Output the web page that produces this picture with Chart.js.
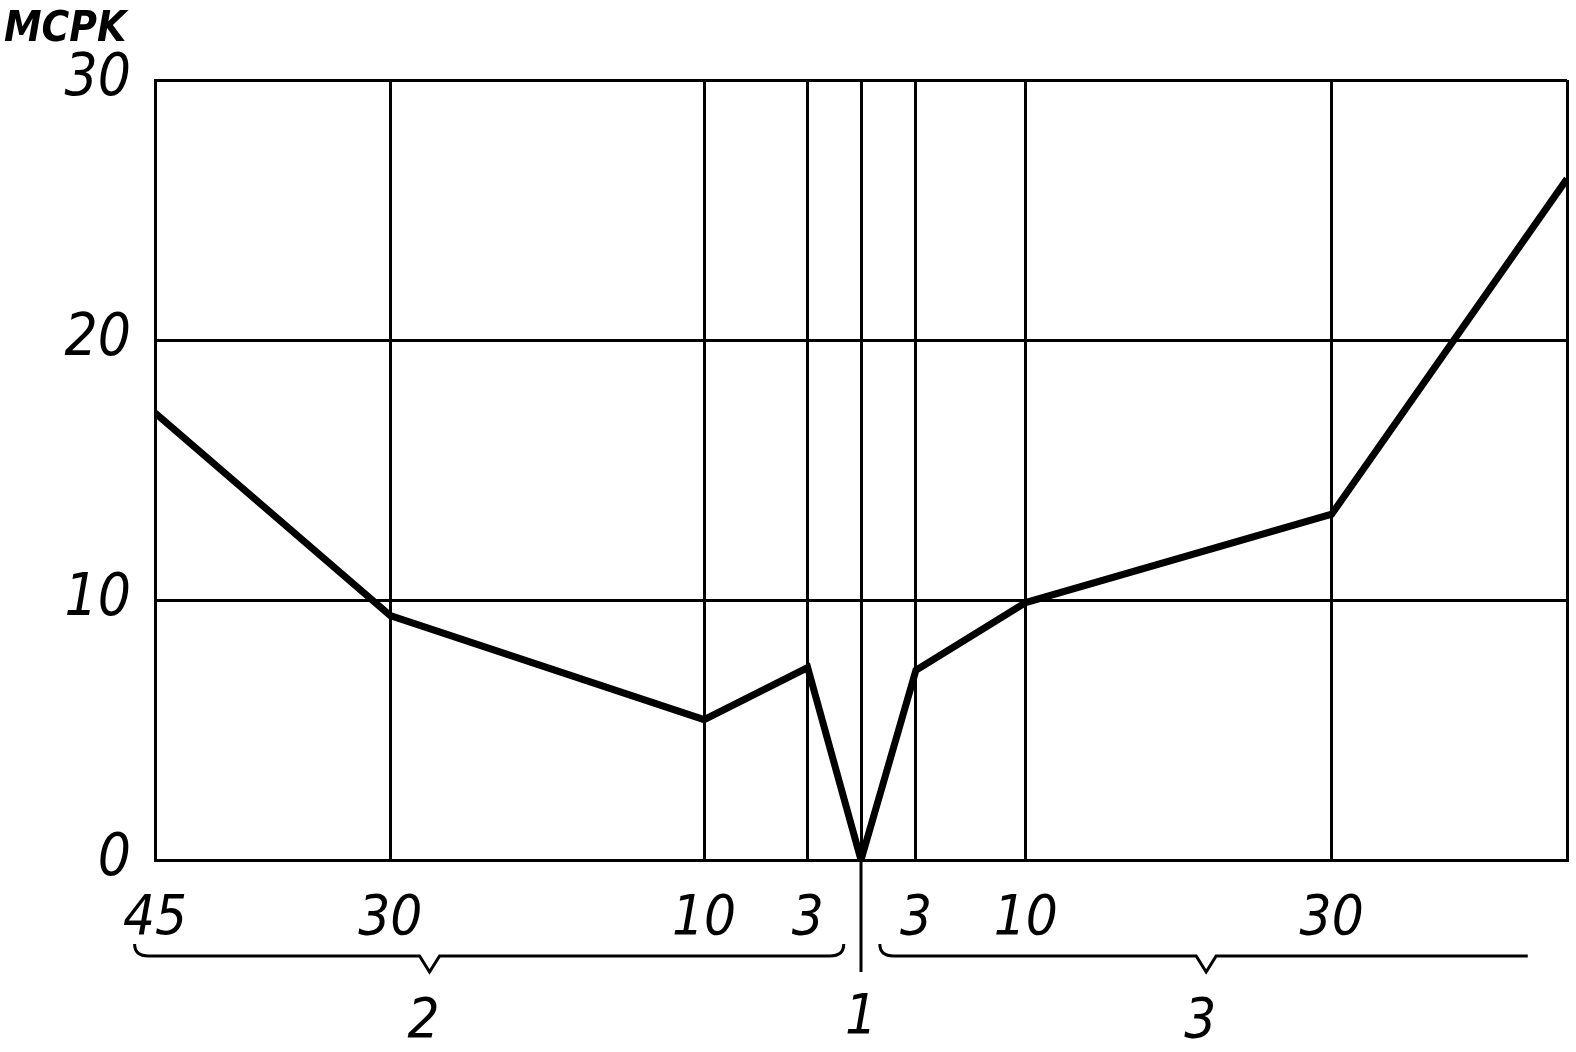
<!DOCTYPE html>
<html lang="ru">
<head>
    <meta charset="UTF-8">
    <title>MCPK</title>
    <script src="https://cdn.jsdelivr.net/npm/chart.js@4.4.0/dist/chart.umd.min.js"></script>
    <style>
        body { margin: 0; background: #fff; }
        canvas { display: block; }
    </style>
</head>
<body>
    <canvas id="chart" width="1576" height="1052"></canvas>
    <script>
        // distance along the profile: negative = group 2 side, positive = group 3 side
        const xPos = [-45, -30, -10, -3.4, 0, 3.5, 10.5, 30, 45];
        const mcpk = [17.2, 9.4, 5.4, 7.4, 0, 7.3, 9.9, 13.3, 26.2];
        const xTickPos = [-45, -30, -10, -3.4, 0, 3.5, 10.5, 30, 45];
        const xTickLabels = ['45', '30', '10', '3', '', '3', '10', '30', ''];
        const yTicks = [0, 10, 20, 30];
        const groups = [
            { label: '2', from: -46.3, to: -1.1, tip: -27.5, curlRight: true },
            { label: '1', at: 0 },
            { label: '3', from: 1.2, to: 42.5, tip: 22, curlRight: false }
        ];
        const yTitle = 'MCPK';

        const FONT = '"Liberation Sans Narrow", "DejaVu Sans Condensed", sans-serif';

        const extras = {
            id: 'extras',
            afterDraw(chart) {
                const ctx = chart.ctx;
                const x = chart.scales.x;
                const bottom = chart.chartArea.bottom;
                ctx.save();
                ctx.strokeStyle = '#000';
                ctx.fillStyle = '#000';
                ctx.lineWidth = 3;

                // centre line keeps going below the axis
                const cx = x.getPixelForValue(0);
                ctx.beginPath();
                ctx.moveTo(cx, bottom);
                ctx.lineTo(cx, bottom + 112);
                ctx.stroke();

                const by = bottom + 96;
                ctx.font = 'italic 56px ' + FONT;
                ctx.textAlign = 'center';
                ctx.textBaseline = 'middle';
                groups.forEach(g => {
                    if (g.at !== undefined) {
                        ctx.fillText(g.label, x.getPixelForValue(g.at), by + 62);
                        return;
                    }
                    const x1 = x.getPixelForValue(g.from);
                    const x2 = x.getPixelForValue(g.to);
                    const xt = x.getPixelForValue(g.tip);
                    ctx.beginPath();
                    ctx.moveTo(x1, by - 12);
                    ctx.quadraticCurveTo(x1, by, x1 + 14, by);
                    ctx.lineTo(xt - 10, by);
                    ctx.lineTo(xt, by + 16);
                    ctx.lineTo(xt + 10, by);
                    if (g.curlRight) {
                        ctx.lineTo(x2 - 14, by);
                        ctx.quadraticCurveTo(x2, by, x2, by - 12);
                    } else {
                        ctx.lineTo(x2, by);
                    }
                    ctx.stroke();
                    ctx.fillText(g.label, xt - 6, by + 66);
                });

                ctx.font = 'italic bold 42px ' + FONT;
                ctx.textAlign = 'left';
                ctx.fillText(yTitle, 4, 30);
                ctx.restore();
            }
        };

        const ctx = document.getElementById('chart').getContext('2d');
        new Chart(ctx, {
            type: 'line',
            data: {
                datasets: [{
                    data: xPos.map((v, i) => ({ x: v, y: mcpk[i] })),
                    borderColor: '#000',
                    borderWidth: 7,
                    pointRadius: 0,
                    tension: 0,
                    fill: false
                }]
            },
            options: {
                responsive: false,
                animation: false,
                layout: { padding: { left: 0, top: 80, right: 9, bottom: 112 } },
                plugins: { legend: { display: false }, tooltip: { enabled: false } },
                scales: {
                    x: {
                        type: 'linear',
                        min: -45,
                        max: 45,
                        afterBuildTicks: s => { s.ticks = xTickPos.map(v => ({ value: v })); },
                        afterFit: s => { s.height = 80; s.paddingLeft = 0; s.paddingRight = 0; },
                        grid: { color: '#000', lineWidth: 3, drawTicks: false },
                        border: { color: '#000', width: 3 },
                        ticks: {
                            color: '#000',
                            padding: 26,
                            maxRotation: 0,
                            autoSkip: false,
                            font: { family: FONT, size: 56, style: 'italic' },
                            callback: (v, i) => xTickLabels[i]
                        }
                    },
                    y: {
                        min: 0,
                        max: 30,
                        afterBuildTicks: s => { s.ticks = yTicks.map(v => ({ value: v })); },
                        afterFit: s => { s.width = 155; s.paddingTop = 0; s.paddingBottom = 0; },
                        grid: { color: '#000', lineWidth: 3, drawTicks: false },
                        border: { color: '#000', width: 3 },
                        ticks: {
                            color: '#000',
                            padding: 24,
                            font: { family: FONT, size: 58, style: 'italic' }
                        }
                    }
                }
            },
            plugins: [extras]
        });
    </script>
</body>
</html>
